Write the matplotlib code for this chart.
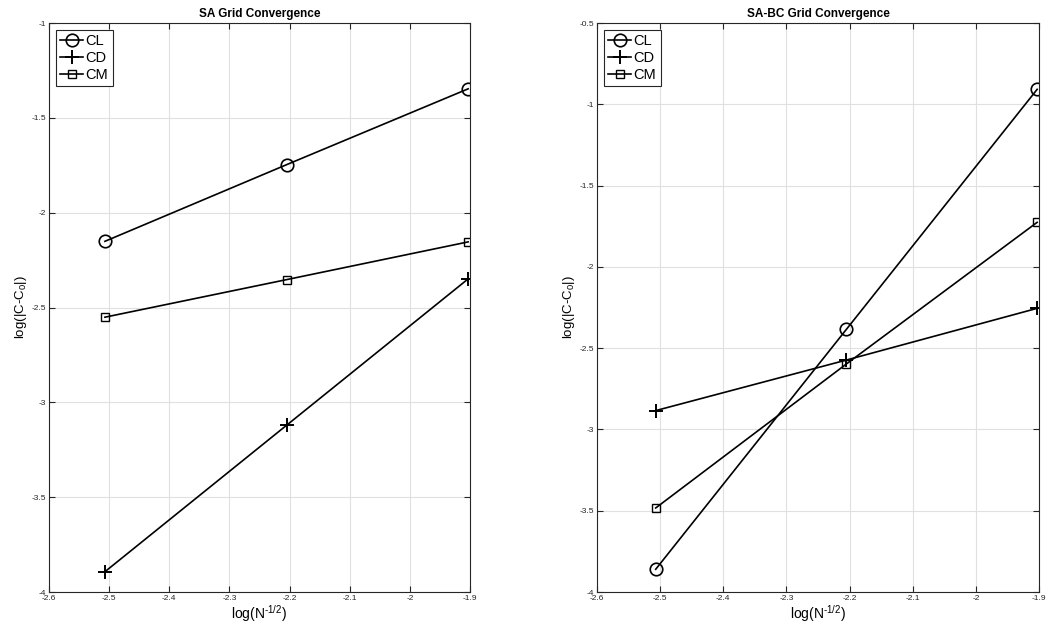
import numpy as np
import matplotlib
matplotlib.use("Agg")
import matplotlib.pyplot as plt
from matplotlib.ticker import FuncFormatter

plt.rcParams['font.family'] = ['Liberation Sans', 'DejaVu Sans']
plt.rcParams['mathtext.fontset'] = 'custom'
plt.rcParams['mathtext.rm'] = 'Liberation Sans'
plt.rcParams['mathtext.it'] = 'Liberation Sans'

# log(N^-1/2) for the three grids
log_h = [-2.507, -2.205, -1.903]

# SA model
sa_cl = [-2.151, -1.747, -1.347]
sa_cd = [-3.893, -3.121, -2.349]
sa_cm = [-2.551, -2.353, -2.154]

# SA-BC model
sabc_cl = [-3.860, -2.384, -0.908]
sabc_cd = [-2.884, -2.573, -2.255]
sabc_cm = [-3.483, -2.597, -1.726]

names = ['CL', 'CD', 'CM']
markers = [dict(marker='o', markersize=9, markerfacecolor='none', markeredgewidth=1.2),
           dict(marker='+', markersize=10, markeredgewidth=1.4),
           dict(marker='s', markersize=6, markerfacecolor='none', markeredgewidth=1.0)]

axcol = '0.15'


def conv_plot(ax, series, title, ylim):
    for vals, name, mk in zip(series, names, markers):
        ax.plot(log_h, vals, color='black', linewidth=1.2, label=name, **mk)
    ax.set_xlim(-2.6, -1.9)
    ax.set_ylim(*ylim)
    ax.set_xticks(np.arange(-2.6, -1.85, 0.1))
    ax.set_yticks(np.arange(ylim[0], ylim[1] + 0.01, 0.5))
    fmt = FuncFormatter(lambda v, p: '%g' % round(v, 2))
    ax.xaxis.set_major_formatter(fmt)
    ax.yaxis.set_major_formatter(fmt)
    ax.tick_params(direction='in', labelsize=6, colors=axcol, length=4,
                   top=True, right=True, pad=2)
    for s in ax.spines.values():
        s.set_color(axcol)
        s.set_linewidth(0.8)
    ax.grid(True, color='0.88', linewidth=0.8)
    ax.set_axisbelow(True)
    ax.set_title(title, fontsize=8.5, fontweight='bold', pad=4)
    ax.set_xlabel(r'log(N$^{\mathrm{\text{-}1/2}}$)', fontsize=10, labelpad=1)
    ax.set_ylabel(r'log(|C-C$_0$|)', fontsize=9.5, labelpad=2)
    leg = ax.legend(loc='upper left', fontsize=10.5, fancybox=False, framealpha=1,
                    handlelength=1.6, handletextpad=0.15, borderpad=0.3,
                    labelspacing=0.2, borderaxespad=0.45)
    leg.get_frame().set_edgecolor(axcol)
    leg.get_frame().set_linewidth(0.8)


fig = plt.figure(figsize=(10.49, 6.34), dpi=100)
ax1 = fig.add_axes([0.0467, 0.0662, 0.4013, 0.8975])
ax2 = fig.add_axes([0.5691, 0.0662, 0.4214, 0.8975])

conv_plot(ax1, [sa_cl, sa_cd, sa_cm], 'SA Grid Convergence', (-4, -1))
conv_plot(ax2, [sabc_cl, sabc_cd, sabc_cm], 'SA-BC Grid Convergence', (-4, -0.5))

fig.savefig('out.png', dpi=100)
